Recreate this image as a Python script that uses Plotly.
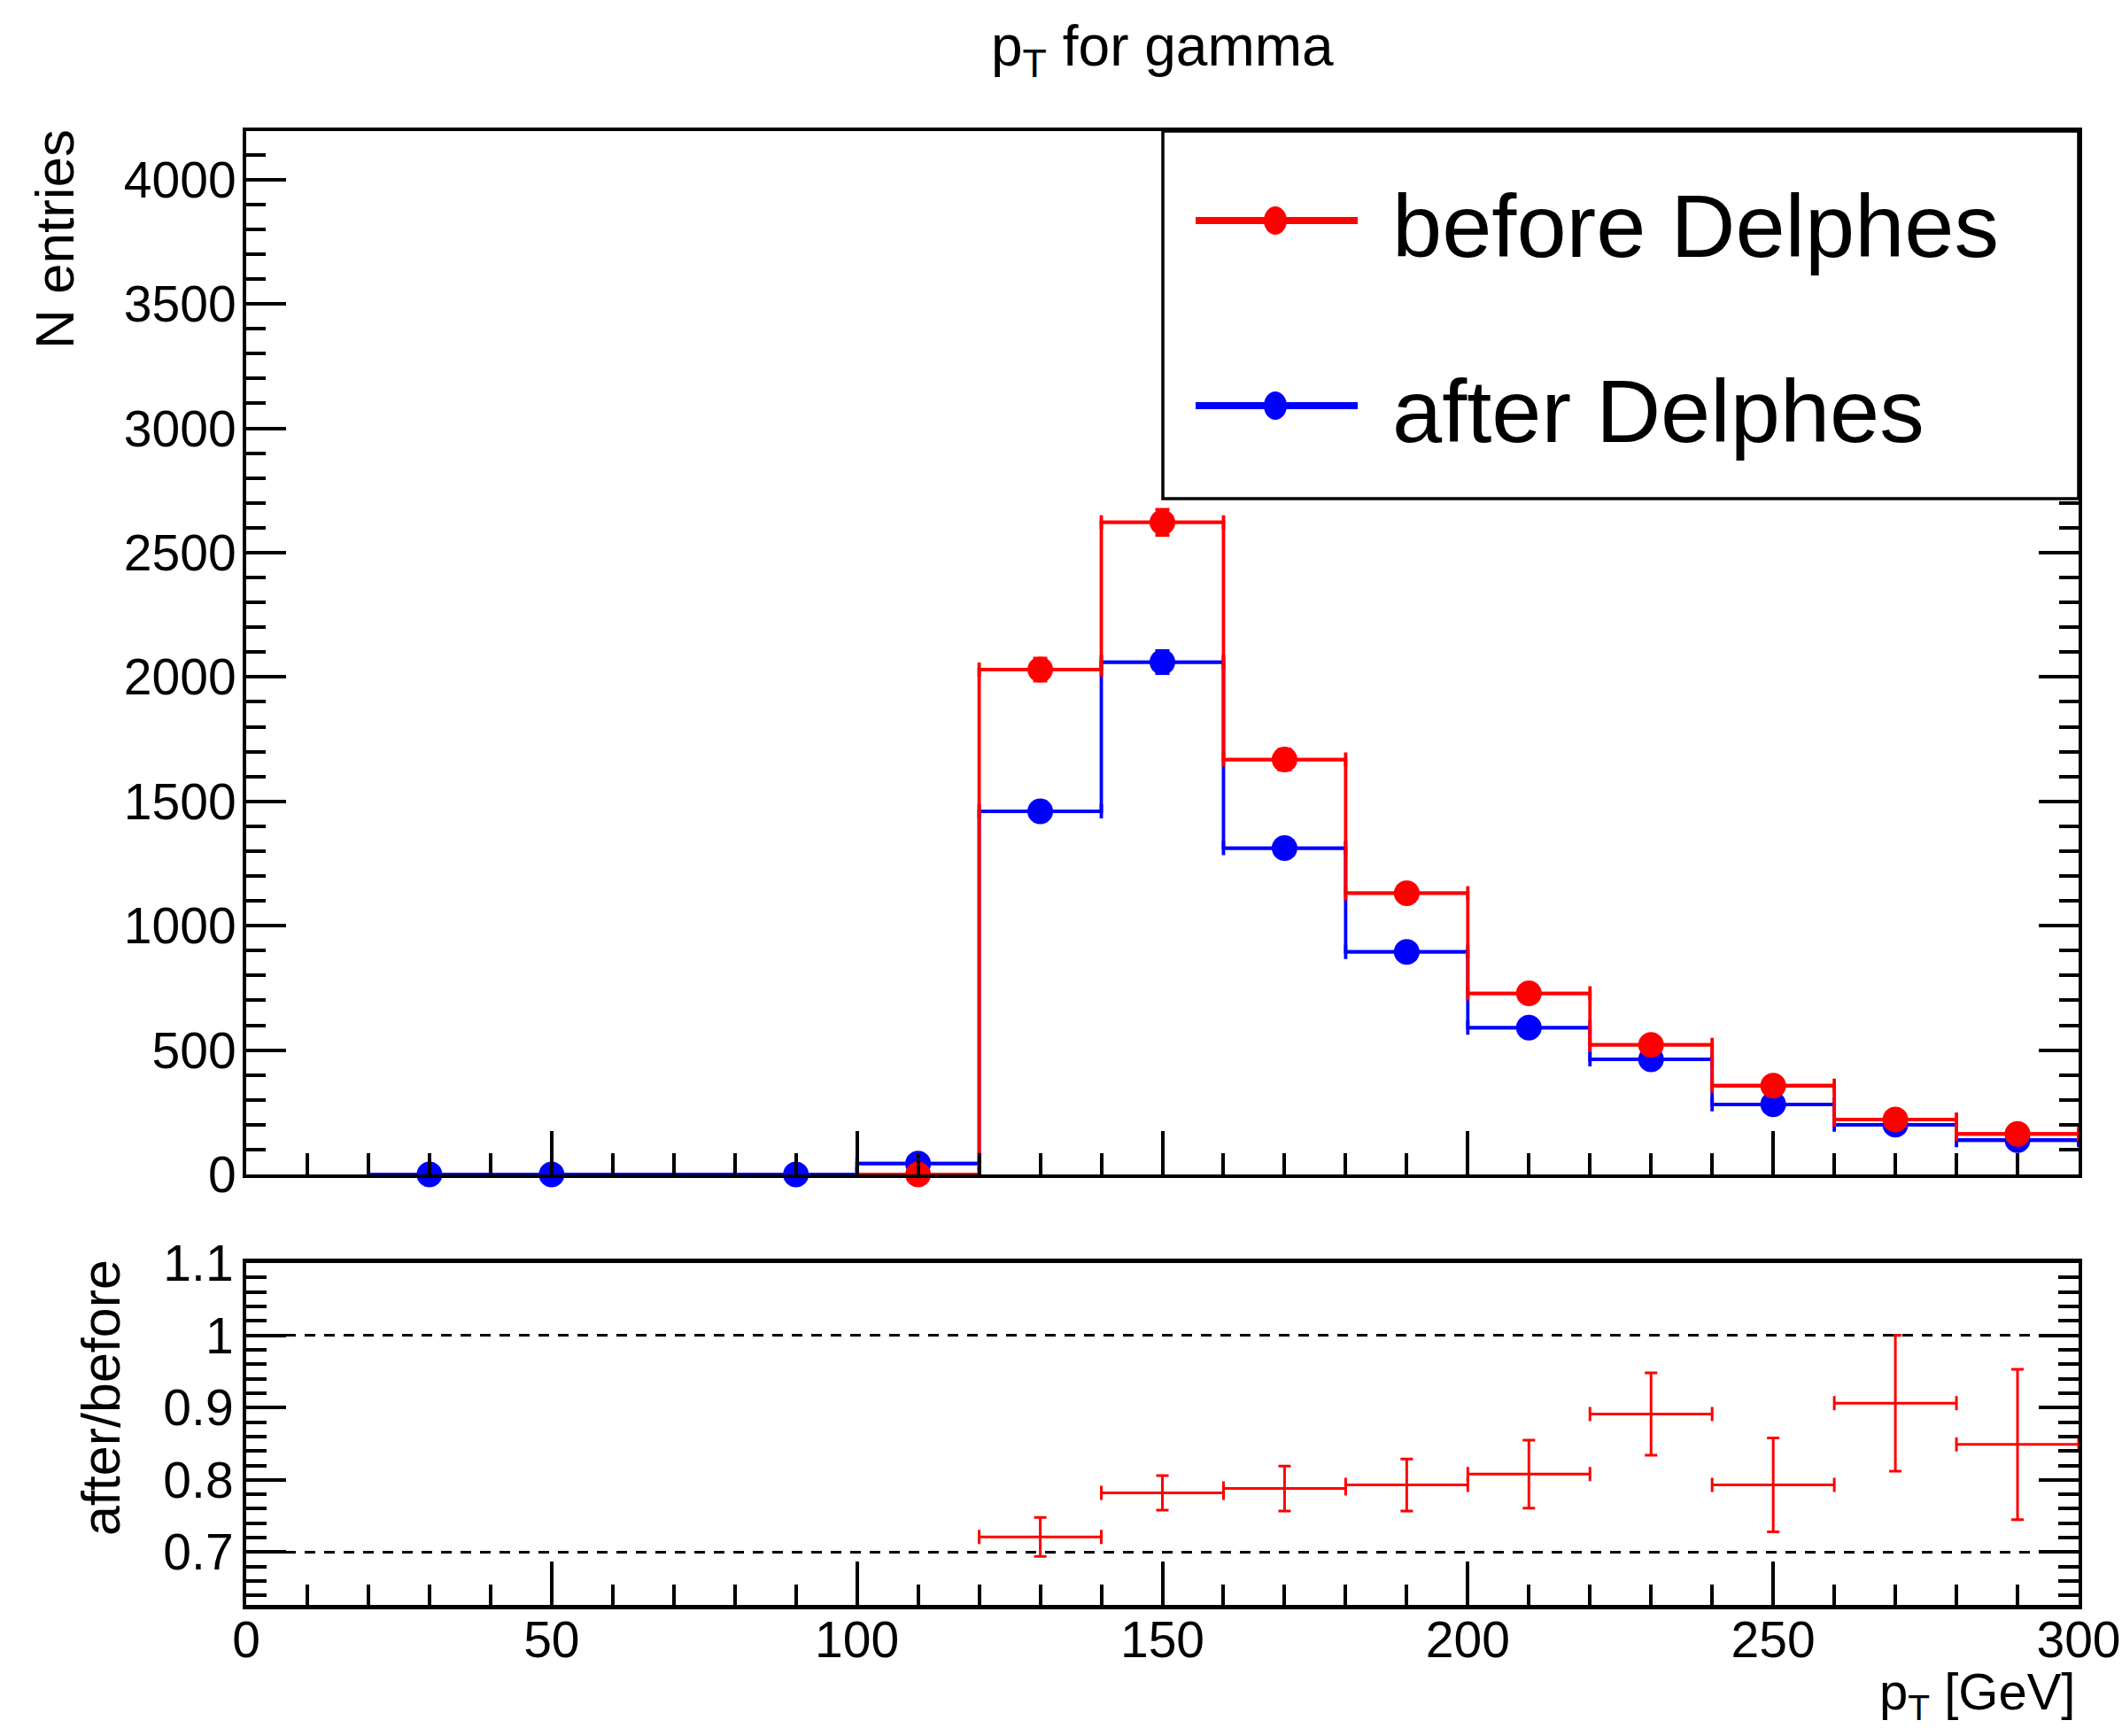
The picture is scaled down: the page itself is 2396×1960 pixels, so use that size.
import plotly.graph_objects as go

# ---------------- data ----------------
bin_centers = [30, 50, 90, 110, 130, 150, 170, 190, 210, 230, 250, 270, 290]
bin_width = 20
before = [None, None, None, 0, 2030, 2622, 1668, 1131, 728, 521, 357, 221, 163]
before_err = [None, None, None, 0, 45, 51, 41, 34, 27, 23, 19, 15, 13]
after = [0, 0, 0, 44, 1460, 2060, 1312, 895, 590, 463, 282, 200, 138]
after_err = [0, 0, 0, 7, 38, 45, 36, 30, 24, 22, 17, 14, 12]

ratio_centers = [130, 150, 170, 190, 210, 230, 250, 270, 290]
ratio = [0.721, 0.782, 0.788, 0.793, 0.808, 0.891, 0.793, 0.906, 0.849]
ratio_err = [0.027, 0.024, 0.031, 0.036, 0.047, 0.057, 0.065, 0.094, 0.104]
ratio_refs = [1.0, 0.7]

series_names = ["before Delphes", "after Delphes"]
RED = "#ff0000"
BLUE = "#0000ff"

# ---------------- geometry ----------------
W, H = 2396, 1960
ML, MR, MT, MB = 278, 49, 148, 148
PW = W - ML - MR
PH = H - MT - MB


def xp(px):
    return (px - ML) / PW


def yp(py):
    return (H - MB - py) / PH


FONT = "Liberation Sans, Arial, Helvetica, sans-serif"
TICKFS = 57


def present(xc, yv, ev):
    out = [(c, v, e) for c, v, e in zip(xc, yv, ev) if v is not None]
    return [o[0] for o in out], [o[1] for o in out], [o[2] for o in out]


def step_path(xc, yv):
    xs, ys = [], []
    for c, v in zip(xc, yv):
        if v is None:
            continue
        xs += [c - bin_width / 2, c + bin_width / 2]
        ys += [v, v]
    return xs, ys


fig = go.Figure()

for vals, errs, col in [(after, after_err, BLUE), (before, before_err, RED)]:
    sx, sy = step_path(bin_centers, vals)
    fig.add_trace(go.Scatter(x=sx, y=sy, mode="lines", line=dict(color=col, width=3.8),
                             showlegend=False, hoverinfo="skip", cliponaxis=False,
                             xaxis="x", yaxis="y"))
    px_, py_, pe_ = present(bin_centers, vals, errs)
    fig.add_trace(go.Scatter(
        x=px_, y=py_, mode="markers",
        marker=dict(color=col, size=29, symbol="circle", line=dict(width=0)),
        error_x=dict(type="data", array=[bin_width / 2] * len(px_), color=col,
                     thickness=3.8, width=8),
        error_y=dict(type="data", array=pe_, color=col, thickness=3.8, width=8),
        showlegend=False, cliponaxis=False, xaxis="x", yaxis="y"))

fig.add_trace(go.Scatter(
    x=ratio_centers, y=ratio, mode="markers",
    marker=dict(color=RED, size=1),
    error_x=dict(type="data", array=[bin_width / 2] * len(ratio_centers), color=RED,
                 thickness=3, width=8),
    error_y=dict(type="data", array=ratio_err, color=RED, thickness=3, width=7),
    showlegend=False, xaxis="x2", yaxis="y2"))

axis_common = dict(showline=True, linecolor="black", showgrid=False, zeroline=False,
                   ticks="inside", tickcolor="black", tickwidth=3.5,
                   tickfont=dict(family=FONT, size=TICKFS, color="black"))

top_bottom_split = yp(1326)
ratio_top = yp(1426)

fig.update_layout(
    width=W, height=H,
    margin=dict(l=ML, r=MR, t=MT, b=MB, autoexpand=False),
    plot_bgcolor="white", paper_bgcolor="white",
    font=dict(family=FONT, color="black"),
    xaxis=dict(domain=[0, 1], anchor="y", range=[0, 300], tick0=0, dtick=50,
               ticklen=49, mirror=True, linewidth=4, showticklabels=False,
               minor=dict(dtick=10, ticklen=24, tickwidth=3.5, ticks="inside", tickcolor="black"),
               **axis_common),
    yaxis=dict(domain=[top_bottom_split, 1], anchor="x", range=[0, 4195], tick0=0, dtick=500,
               ticklen=45, mirror="ticks", linewidth=4, ticklabelstandoff=-4,
               minor=dict(dtick=100, ticklen=22, tickwidth=3.5, ticks="inside", tickcolor="black"),
               **axis_common),
    xaxis2=dict(domain=[0, 1], anchor="y2", range=[0, 300], tick0=0, dtick=50,
                ticklen=49, mirror=True, linewidth=5, matches="x", ticklabelstandoff=-14,
                minor=dict(dtick=10, ticklen=23, tickwidth=3.5, ticks="inside", tickcolor="black"),
                **axis_common),
    yaxis2=dict(domain=[0, ratio_top], anchor="x2", range=[0.627, 1.1], tick0=0, dtick=0.1,
                ticklen=45, mirror="ticks", linewidth=4, ticklabelstandoff=-1,
                minor=dict(dtick=0.02, ticklen=23, tickwidth=3.5, ticks="inside", tickcolor="black"),
                **axis_common),
)

# reference lines in the ratio panel
for r in ratio_refs:
    fig.add_shape(type="line", xref="x2 domain", yref="y2", x0=0, x1=1, y0=r, y1=r,
                  line=dict(color="black", width=3, dash="12px,10px"), layer="above")

# ---------------- legend box (drawn by hand to match ROOT's TLegend) ----------------
fig.add_shape(type="rect", xref="paper", yref="paper", x0=xp(1313), x1=1.0, y0=yp(563), y1=1.0,
              line=dict(color="black", width=3.5), fillcolor="white", layer="above")
legend_rows = [(249, RED), (458, BLUE)]
for (ly, col), name in zip(legend_rows, series_names):
    fig.add_shape(type="line", xref="paper", yref="paper", x0=xp(1350), x1=xp(1533),
                  y0=yp(ly), y1=yp(ly), line=dict(color=col, width=8), layer="above")
    fig.add_shape(type="circle", xref="paper", yref="paper", x0=xp(1427), x1=xp(1453),
                  y0=yp(ly + 16), y1=yp(ly - 16), line=dict(color=col, width=0),
                  fillcolor=col, layer="above")
    fig.add_annotation(text=name, xref="paper", yref="paper", x=xp(1570), y=yp(ly + 6),
                       xanchor="left", yanchor="middle", showarrow=False,
                       font=dict(family=FONT, size=101, color="black"))

# ---------------- titles ----------------
fig.add_annotation(text="p<sub>T</sub> for gamma", xref="paper", yref="paper", x=0.5, y=yp(56),
                   xanchor="center", yanchor="middle", showarrow=False,
                   font=dict(family=FONT, size=64, color="black"))
fig.add_annotation(text="N entries", xref="paper", yref="paper", x=xp(62), y=yp(144),
                   xanchor="center", yanchor="top", textangle=-90, showarrow=False,
                   font=dict(family=FONT, size=62, color="black"))
fig.add_annotation(text="after/before", xref="paper", yref="paper", x=xp(114), y=yp(1420),
                   xanchor="center", yanchor="top", textangle=-90, showarrow=False,
                   font=dict(family=FONT, size=61, color="black"))
fig.add_annotation(text="p<sub>T</sub> [GeV]", xref="paper", yref="paper", x=xp(2345), y=yp(1914),
                   xanchor="right", yanchor="middle", showarrow=False,
                   font=dict(family=FONT, size=58, color="black"))

fig.write_html("out.html")
